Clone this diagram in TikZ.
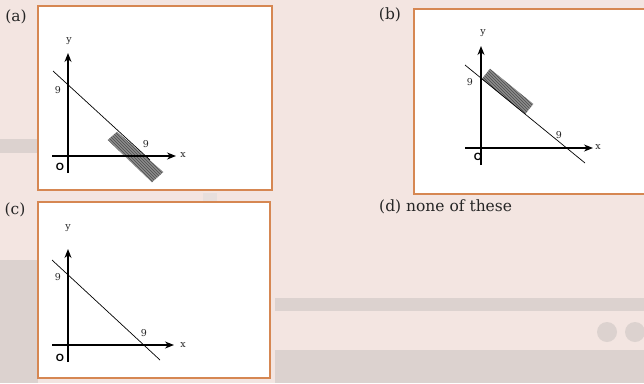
\documentclass[tikz,border=0pt]{standalone}
\usepackage{fontspec}
\setmainfont{DejaVu Serif}
\setsansfont{Liberation Sans}
\usetikzlibrary{arrows.meta,patterns}
\definecolor{bgpink}{HTML}{F3E5E1}
\definecolor{bggray}{HTML}{DCD2CF}
\definecolor{boxline}{HTML}{D68752}
\tikzset{
  panel/.style={draw=boxline,line width=1.4pt,fill=white},
  axis/.style={line width=1.3pt,-{Stealth[length=9pt,width=7pt]}},
  graphline/.style={line width=0.7pt},
  shade/.style={fill=black!45,draw=black!45,line width=0.4pt},
  hatch/.style={pattern=north west lines,pattern color=black!70},
  tick/.style={font=\fontsize{9.5}{10}\selectfont,inner sep=0pt,text=black!85},
  origin/.style={font=\sffamily\bfseries\fontsize{10.5}{11}\selectfont,inner sep=0pt},
  optlabel/.style={font=\fontsize{15.5}{17}\selectfont,inner sep=0pt,text=black!85}
}
\begin{document}
\begin{tikzpicture}[x=1pt,y=-1pt]
% page background
\fill[bgpink] (0,0) rectangle (644,383);
\useasboundingbox (0,0) rectangle (644,383);
\fill[bggray] (0,139) rectangle (38,153);
\fill[bggray] (0,260) rectangle (38,383);
\fill[bggray!70] (203,193) rectangle (217,202);
\fill[bggray] (275,298) rectangle (644,311);
\fill[bggray] (275,350) rectangle (644,383);
\fill[bggray] (607,332) circle[radius=10];
\fill[bggray] (635,332) circle[radius=10];

% (a)
\node[optlabel] (la) at (16,17) {(a)};
\draw[panel] (38,6) rectangle (272,190);
\filldraw[shade] (108,140) -- (117,132) -- (163,172) -- (152,182) -- cycle;
\fill[hatch] (108,140) -- (117,132) -- (163,172) -- (152,182) -- cycle;
\coordinate (ayb) at (68,173); \coordinate (ayt) at (68,53);
\coordinate (axl) at (52,156); \coordinate (axr) at (176,156);
\coordinate (al1) at (53,71); \coordinate (al2) at (150,160);
\draw[axis] (ayb) -- (ayt);
\draw[axis] (axl) -- (axr);
\draw[graphline] (al1) -- (al2);
\node[tick] (ay) at (69,41) {y};
\node[tick] (ax) at (183,155) {x};
\node[origin] (ao) at (60,167) {O};
\node[tick] (a9y) at (58,90) {9};
\node[tick] (a9x) at (146,144) {9};

% (b)
\node[optlabel] (lb) at (390,15) {(b)};
\draw[panel] (414,9) rectangle (650,194);
\filldraw[shade] (482,79) -- (490,69) -- (533,104) -- (525,114) -- cycle;
\fill[hatch] (482,79) -- (490,69) -- (533,104) -- (525,114) -- cycle;
\coordinate (byb) at (481,165); \coordinate (byt) at (481,46);
\coordinate (bxl) at (465,148); \coordinate (bxr) at (593,148);
\coordinate (bl1) at (465,65); \coordinate (bl2) at (585,163);
\draw[axis] (byb) -- (byt);
\draw[axis] (bxl) -- (bxr);
\draw[graphline] (bl1) -- (bl2);
\node[tick] (by) at (483,33) {y};
\node[tick] (bx) at (598,147) {x};
\node[origin] (bo) at (478,157) {O};
\node[tick] (b9y) at (470,82) {9};
\node[tick] (b9x) at (559,135) {9};

% (c)
\node[optlabel] (lc) at (15,210) {(c)};
\draw[panel] (38,202) rectangle (270,378);
\coordinate (cyb) at (68,362); \coordinate (cyt) at (68,249);
\coordinate (cxl) at (52,345); \coordinate (cxr) at (174,345);
\coordinate (cl1) at (52,260); \coordinate (cl2) at (160,360);
\draw[axis] (cyb) -- (cyt);
\draw[axis] (cxl) -- (cxr);
\draw[graphline] (cl1) -- (cl2);
\node[tick] (cy) at (68,228) {y};
\node[tick] (cx) at (183,345) {x};
\node[origin] (co) at (60,358) {O};
\node[tick] (c9y) at (58,277) {9};
\node[tick] (c9x) at (144,333) {9};

% (d)
\node[optlabel,anchor=west] (ld) at (379,207) {(d) none of these};
\end{tikzpicture}
\end{document}
